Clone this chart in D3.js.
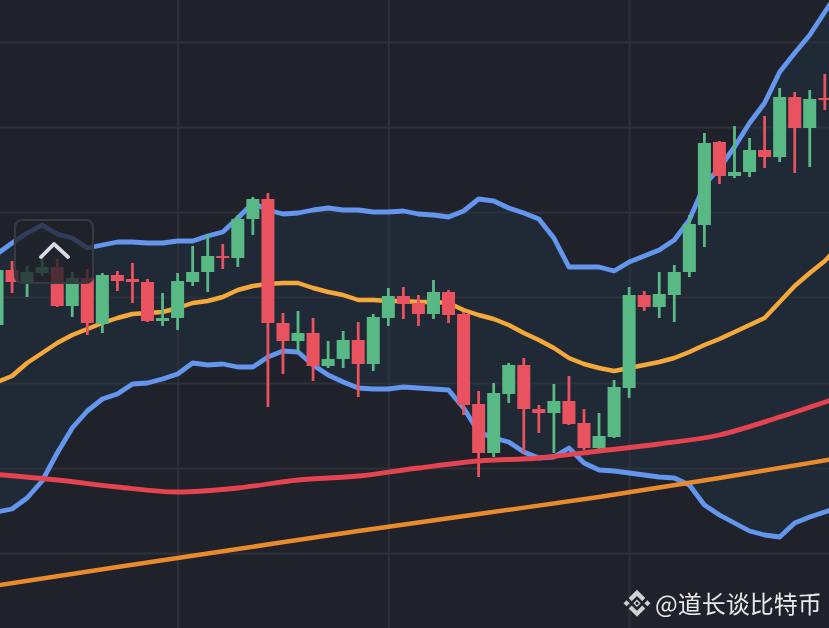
<!DOCTYPE html>
<html>
<head>
<meta charset="utf-8">
<script src="https://cdnjs.cloudflare.com/ajax/libs/d3/7.8.5/d3.min.js"></script>
<style>
  html, body { margin: 0; padding: 0; background: #1f222b; overflow: hidden; }
  svg { display: block; filter: blur(0.45px); }
  .grid line { stroke: #2e313a; stroke-width: 2.2; }
  .grid path { display: none; }
</style>
</head>
<body>
<svg id="chart"></svg>
<script>
const width = 829;
const height = 628;

// candles on a nominal price scale
const opens = [303,358,345,355,361,322,350,304,353,349,346,307,310,346,356,372,370,409,429,305,287,295,262,269,288,264,310,332,325,314,336,314,224,175,234,263,219,215,227,205,180,191,240,333,321,333,356,403,486,452,456,478,471,531,500,530];
const closes = [358,346,356,361,322,350,305,353,347,346,307,310,347,356,372,370,409,429,305,287,295,262,269,288,264,311,332,324,314,336,313,223,175,235,263,219,215,227,204,180,192,241,333,321,334,356,404,485,452,456,478,471,531,500,529,528];
const highs = [362,367,362,373,369,356,359,355,357,365,349,335,355,382,394,384,413,431,435,315,317,310,287,297,306,314,340,341,333,348,338,316,237,245,265,270,223,244,252,219,215,248,341,337,356,363,413,495,487,502,490,512,540,536,538,554];
const lows = [298,335,331,352,321,311,293,295,337,325,306,302,298,342,336,359,361,393,221,254,276,247,260,260,231,257,302,309,302,309,305,213,151,171,225,175,195,175,203,178,175,190,230,317,310,306,351,381,444,450,451,460,466,455,461,518];

// bollinger bands, one value per candle plus one past the right edge
const bandUpper = [374,385,395,403,394,390,380,383,386,386,385,385,387,387,392,396,410,425,418,414,415,418,420,418,418,416,416,417,414,413,411,417,429,427,420,415,409,390,361,361,361,357,366,372,378,388,408,443,460,481,505,525,556,575,593,616,638];
const bandMiddle = [246,252,265,275,285,293,299,305,310,314,315,316,320,325,327,331,338,342,344,345,345,340,336,333,328,328,327,327,326,326,325,318,313,309,303,295,288,280,270,264,260,257,260,263,266,270,276,283,289,296,303,310,326,342,355,367,383];
const bandLower = [116,119,130,147,175,200,217,229,234,244,245,249,254,265,263,264,261,261,271,277,276,263,253,246,240,239,239,241,240,239,238,220,196,190,186,176,170,171,180,165,158,157,155,153,151,150,143,123,113,105,97,93,91,105,111,116,121];

// slow moving averages, sampled along the candles
const maRedIndex = [0,4,8,12,16,20,24,28,32,36,40,44,48,52,56];
const maRedValues = [153.5,148,141,136,140,148,152,160,167,170,177,184,193,211,231];
const maOrangeIndex = [0,8,16,24,32,40,48,56];
const maOrangeValues = [42.5,61,79,97,114,131,150,170];

const gridPrices = [586,501,416,331,245,160,75];
const gridCandles = [12,26,42];

const watermark = '@道长谈比特币';

const x = d3.scaleLinear().domain([0, 55]).range([-3, 824.8]);
const y = d3.scaleLinear().domain([0, 628]).range([628, 0]);

const svg = d3.select('#chart').attr('width', width).attr('height', height);

svg.append('rect').attr('width', width).attr('height', height).attr('fill', '#1f222b');

// band fill goes under the grid
const bandArea = d3.area()
  .x((d, i) => x(i))
  .y0((d, i) => y(bandLower[i]))
  .y1(d => y(d));
svg.append('path').datum(bandUpper)
  .attr('d', bandArea)
  .attr('fill', '#202a37');

svg.append('g').attr('class', 'grid')
  .call(d3.axisRight(y).tickValues(gridPrices).tickSize(width).tickFormat(''));
svg.append('g').attr('class', 'grid')
  .call(d3.axisBottom(x).tickValues(gridCandles).tickSize(height).tickFormat(''));

const bandLine = d3.line().x((d, i) => x(i)).y(d => y(d));

svg.append('path').datum(bandUpper)
  .attr('d', bandLine).attr('fill', 'none')
  .attr('stroke', '#6496ee').attr('stroke-width', 4.8).attr('stroke-linejoin', 'round');
svg.append('path').datum(bandLower)
  .attr('d', bandLine).attr('fill', 'none')
  .attr('stroke', '#6496ee').attr('stroke-width', 4.8).attr('stroke-linejoin', 'round');
svg.append('path').datum(bandMiddle)
  .attr('d', bandLine).attr('fill', 'none')
  .attr('stroke', '#f6a93b').attr('stroke-width', 4.4).attr('stroke-linejoin', 'round');

// candles
const upColor = '#59b985';
const downColor = '#e9525f';
const candles = svg.selectAll('.candle')
  .data(opens)
  .enter()
  .append('g')
  .attr('class', 'candle');

candles.append('line')
  .attr('x1', (d, i) => x(i))
  .attr('x2', (d, i) => x(i))
  .attr('y1', (d, i) => y(highs[i]))
  .attr('y2', (d, i) => y(lows[i]))
  .attr('stroke', (d, i) => closes[i] >= d ? upColor : downColor)
  .attr('stroke-width', 2.8);

candles.append('rect')
  .attr('x', (d, i) => x(i) - 6.5)
  .attr('width', 13)
  .attr('y', (d, i) => y(Math.max(d, closes[i])))
  .attr('height', (d, i) => Math.abs(y(d) - y(closes[i])))
  .attr('fill', (d, i) => closes[i] >= d ? upColor : downColor);

// moving averages sit on top of the candles
const maLine = idx => d3.line()
  .x((d, i) => x(idx[i]))
  .y(d => y(d))
  .curve(d3.curveMonotoneX);

svg.append('path').datum(maOrangeValues)
  .attr('d', maLine(maOrangeIndex)).attr('fill', 'none')
  .attr('stroke', '#e98a2c').attr('stroke-width', 4.5);
svg.append('path').datum(maRedValues)
  .attr('d', maLine(maRedIndex)).attr('fill', 'none')
  .attr('stroke', '#e5434f').attr('stroke-width', 4.8);

// collapse button
svg.append('rect')
  .attr('x', 15).attr('y', 220).attr('width', 78).attr('height', 63).attr('rx', 7)
  .attr('fill', 'rgba(31,33,41,0.76)')
  .attr('stroke', '#383a42').attr('stroke-width', 2.2);
svg.append('path')
  .attr('d', 'M41,257 L54,244 L68,257')
  .attr('fill', 'none')
  .attr('stroke', '#d9dbe0').attr('stroke-width', 3.8)
  .attr('stroke-linecap', 'round').attr('stroke-linejoin', 'round');

// watermark
const logo = svg.append('g').attr('transform', 'translate(623.5,589.8) scale(0.213)');
logo.append('path')
  .attr('d', 'M38.73 53.2l24.59-24.58 24.6 24.6 14.3-14.31L63.32 0 24.43 38.9zM0 63.31l14.3-14.31 14.31 14.31-14.31 14.3zm38.73 10.11l24.59 24.59 24.6-24.6 14.31 14.29-38.9 38.91-38.91-38.88zm59.16-10.11l14.3-14.31 14.31 14.31-14.31 14.3z')
  .attr('fill', '#cfd0d2');
logo.append('path')
  .attr('d', 'M63.32 50 L76.6 63.3 L63.32 76.6 L50 63.3 Z')
  .attr('fill', 'none').attr('stroke', '#cfd0d2').attr('stroke-width', 6);

svg.append('text')
  .attr('x', 655).attr('y', 613)
  .attr('font-family', '"Noto Sans CJK SC", "Noto Sans", sans-serif')
  .attr('font-size', 24)
  .attr('fill', '#e8e8e8')
  .text(watermark);
</script>
</body>
</html>
